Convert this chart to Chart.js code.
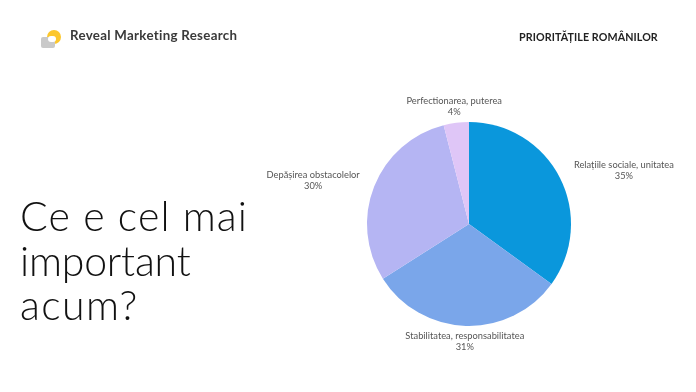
<!DOCTYPE html>
<html lang="ro">
<head>
<meta charset="utf-8">
<title>Prioritățile românilor</title>
<script src="https://cdn.jsdelivr.net/npm/chart.js@4"></script>
<style>
    html, body { margin: 0; padding: 0; background: #fff; }
    #page { position: relative; width: 696px; height: 392px; overflow: hidden; font-family: Lato, sans-serif; }
    #pie { position: absolute; left: 0; top: 0; }
    .text { position: absolute; white-space: nowrap; }
    #brand { left: 70px; top: 25px; font-size: 13.3px; line-height: 20px; font-weight: 700; color: #3a3a3a; letter-spacing: 0.3px; }
    #section { left: 519px; top: 29px; font-size: 10.7px; line-height: 16px; font-weight: 700; color: #222; letter-spacing: 0.1px; }
    #headline { left: 20px; top: 194px; font-size: 41px; line-height: 44.5px; font-weight: 300; color: #111; }
    #headline div:nth-child(1) { letter-spacing: 1.1px; }
    #headline div:nth-child(2) { letter-spacing: -0.2px; }
    #headline div:nth-child(3) { letter-spacing: 1.4px; }
    #logoSun { position: absolute; left: 47px; top: 30px; width: 14px; height: 14px; border-radius: 50%; background: #fcc72c; }
    #logoBox { position: absolute; left: 41px; top: 37px; width: 14px; height: 11px; border-radius: 2px; background: #c9c9c9; }
    #logoGap { position: absolute; left: 48px; top: 36px; width: 8px; height: 6px; border-radius: 3px; background: #fff; }
</style>
</head>
<body>
<div id="page">
    <canvas id="pie" width="696" height="392"></canvas>
    <div id="logoSun"></div>
    <div id="logoBox"></div>
    <div id="logoGap"></div>
    <div class="text" id="brand">Reveal Marketing Research</div>
    <div class="text" id="section">PRIORITĂȚILE ROMÂNILOR</div>
    <div class="text" id="headline"><div>Ce e cel mai</div><div>important</div><div>acum?</div></div>
</div>
<script>
const categories = [
    "Relațiile sociale, unitatea",
    "Stabilitatea, responsabilitatea",
    "Depășirea obstacolelor",
    "Perfectionarea, puterea"
];
const shares = [35, 31, 30, 4];
const sliceColors = ["#0a97dc", "#7aa6ea", "#b5b5f3", "#dfc6f7"];

// shift of each label from its slice's outer edge, in px
const labelShifts = [[64, -8], [-1, 15], [-61, -6], [-2, -17]];

// prints the name and share next to each slice
const sliceLabels = {
    id: "sliceLabels",
    afterDraw(chart) {
        const ctx = chart.ctx;
        ctx.save();
        ctx.font = "9.3px Lato, sans-serif";
        ctx.fillStyle = "#555";
        ctx.textAlign = "center";
        ctx.textBaseline = "middle";
        chart.getDatasetMeta(0).data.forEach((arc, i) => {
            const mid = (arc.startAngle + arc.endAngle) / 2;
            const x = arc.x + Math.cos(mid) * arc.outerRadius + labelShifts[i][0];
            const y = arc.y + Math.sin(mid) * arc.outerRadius + labelShifts[i][1];
            ctx.fillText(categories[i], x, y - 5);
            ctx.fillText(shares[i] + "%", x, y + 6);
        });
        ctx.restore();
    }
};

new Chart(document.getElementById("pie"), {
    type: "pie",
    data: {
        labels: categories,
        datasets: [{
            data: shares,
            backgroundColor: sliceColors,
            borderWidth: 0
        }]
    },
    options: {
        responsive: false,
        animation: false,
        layout: { padding: { left: 367, right: 125, top: 122, bottom: 66 } },
        plugins: {
            legend: { display: false },
            title: { display: false },
            tooltip: { enabled: false }
        }
    },
    plugins: [sliceLabels]
});
</script>
</body>
</html>
